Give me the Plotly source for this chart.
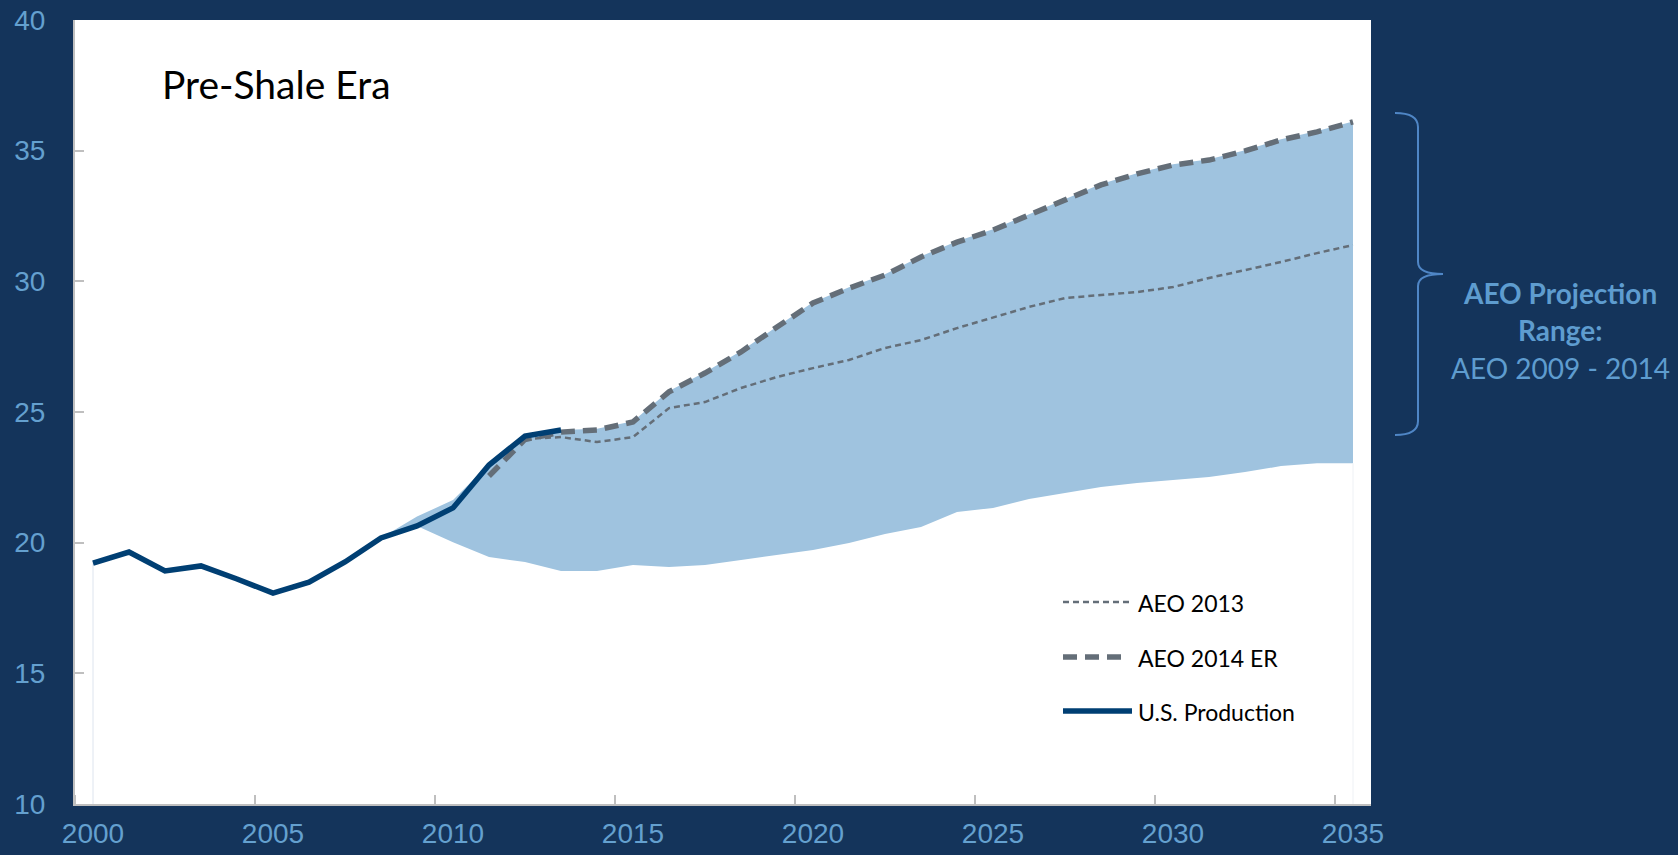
import plotly.graph_objects as go

# U.S. production, history
hist_years = list(range(2000, 2014))
us_production = [19.22, 19.64, 18.92, 19.11, 18.61, 18.07, 18.49, 19.26, 20.18,
                 20.64, 21.33, 22.97, 24.08, 24.31]

# AEO 2013 reference case
aeo2013_years = list(range(2012, 2036))
aeo2013 = [23.97, 24.04, 23.85, 24.04, 25.15, 25.38, 25.92, 26.34, 26.68, 26.99,
           27.45, 27.75, 28.21, 28.63, 29.02, 29.36, 29.48, 29.59, 29.78, 30.13,
           30.43, 30.74, 31.08, 31.39]

# AEO 2014 Early Release
aeo2014_years = list(range(2011, 2036))
aeo2014er = [22.55, 23.95, 24.23, 24.31, 24.62, 25.77, 26.49, 27.30, 28.25, 29.17,
             29.74, 30.24, 30.93, 31.50, 31.96, 32.54, 33.11, 33.69, 34.11, 34.45,
             34.64, 34.99, 35.41, 35.72, 36.10]

# Envelope of AEO 2009 - 2014 projections
range_years = list(range(2008, 2036))
range_high = [20.18, 21.00, 21.63, 23.00, 24.10, 24.31, 24.36, 24.65, 25.80, 26.52,
              27.33, 28.28, 29.20, 29.77, 30.27, 30.96, 31.53, 31.99, 32.57, 33.14,
              33.72, 34.14, 34.48, 34.67, 35.02, 35.44, 35.75, 36.12]
range_low = [20.18, 20.64, 20.02, 19.45, 19.26, 18.92, 18.92, 19.15, 19.07, 19.15,
             19.34, 19.53, 19.72, 19.99, 20.33, 20.60, 21.17, 21.33, 21.67, 21.90,
             22.13, 22.28, 22.40, 22.51, 22.70, 22.93, 23.04, 23.04]

year_ticks = list(range(2000, 2036, 5))
y_ticks = [10, 15, 20, 25, 30, 35, 40]

BG = "#14345b"
LABEL = "#64a0cf"
AXIS = "#bfbfbf"
BAND = "#9fc3df"
GREY = "#646e78"
NAVY = "#003f73"
TXT_FONT = "Lato"

W, H = 1678, 855
ML, MR, MT, MB = 75, 307, 20, 51
PW, PH = W - ML - MR, H - MT - MB


def px_x(px):
    return (px - ML) / PW


def px_y(py):
    return (H - MB - py) / PH


fig = go.Figure()

# projection envelope
fig.add_trace(go.Scatter(x=range_years, y=range_low, mode="lines",
                         line=dict(width=0, color=BAND), hoverinfo="skip",
                         showlegend=False))
fig.add_trace(go.Scatter(x=range_years, y=range_high, mode="lines", fill="tonexty",
                         fillcolor=BAND, line=dict(width=0, color=BAND),
                         hoverinfo="skip", showlegend=False))

# faint edges of the area at both ends of the horizon
fig.add_trace(go.Scatter(x=[hist_years[0], hist_years[0]], y=[y_ticks[0], us_production[0]],
                         mode="lines", line=dict(color="#dde4ee", width=1),
                         hoverinfo="skip", showlegend=False))
fig.add_trace(go.Scatter(x=[range_years[-1], range_years[-1]], y=[y_ticks[0], range_low[-1]],
                         mode="lines", line=dict(color="#eef1f5", width=1),
                         hoverinfo="skip", showlegend=False))

fig.add_trace(go.Scatter(x=aeo2013_years, y=aeo2013, mode="lines", name="AEO 2013",
                         line=dict(color=GREY, width=2.5, dash="6px,4px"),
                         showlegend=False))
fig.add_trace(go.Scatter(x=aeo2014_years, y=aeo2014er, mode="lines", name="AEO 2014 ER",
                         line=dict(color=GREY, width=5.5, dash="14px,8px"),
                         showlegend=False))
fig.add_trace(go.Scatter(x=hist_years, y=us_production, mode="lines", name="U.S. Production",
                         line=dict(color=NAVY, width=5.5), showlegend=False))

shapes = []
annotations = []

# legend drawn beside the lines
legend_rows = [
    ("AEO 2013", dict(color=GREY, width=2.5, dash="6px,4px"), 602, 1130),
    ("AEO 2014 ER", dict(color=GREY, width=5.5, dash="14px,8px"), 657, 1126),
    ("U.S. Production", dict(color=NAVY, width=5.5), 711, 1132),
]
for label, ln, py, x_end in legend_rows:
    shapes.append(dict(type="line", xref="paper", yref="paper",
                       x0=px_x(1063), x1=px_x(x_end), y0=px_y(py), y1=px_y(py),
                       line=ln))
    annotations.append(dict(text=label, xref="paper", yref="paper",
                            x=px_x(1136), y=px_y(py + 1), xanchor="left", yanchor="middle",
                            showarrow=False, font=dict(family=TXT_FONT, size=23, color="#000000")))

annotations.append(dict(text="Pre-Shale Era", xref="paper", yref="paper",
                        x=px_x(160), y=px_y(84), xanchor="left", yanchor="middle",
                        showarrow=False, font=dict(family=TXT_FONT, size=39, color="#000000")))

# brace marking the projection range
bx0, bx1, bx2 = 1395, 1418, 1443
by0, bym, by1 = 113, 274, 435
pts = {
    "a": (bx0, by0), "b": (bx1, by0), "c": (bx1, by0 + 14), "d": (bx1, bym - 12),
    "e": (bx1, bym), "f": (bx2, bym), "g": (bx1, bym + 12), "h": (bx1, by1 - 14),
    "i": (bx1, by1), "j": (bx0, by1),
}
P = {k: f"{px_x(v[0]):.5f},{px_y(v[1]):.5f}" for k, v in pts.items()}
brace = (f"M {P['a']} Q {P['b']} {P['c']} L {P['d']} Q {P['e']} {P['f']} "
         f"Q {P['e']} {P['g']} L {P['h']} Q {P['i']} {P['j']}")
shapes.append(dict(type="path", xref="paper", yref="paper", path=brace,
                   line=dict(color="#4f86c6", width=2)))

side_text = [("<b>AEO Projection</b>", 293), ("<b>Range:</b>", 330), ("AEO 2009 - 2014", 368)]
for t, py in side_text:
    annotations.append(dict(text=t, xref="paper", yref="paper", x=px_x(1560), y=px_y(py),
                            xanchor="center", yanchor="middle", showarrow=False,
                            font=dict(family=TXT_FONT, size=28, color="#5e9ccf")))

fig.update_layout(
    width=W, height=H,
    margin=dict(l=ML, r=MR, t=MT, b=MB, pad=0),
    paper_bgcolor=BG, plot_bgcolor="#ffffff",
    shapes=shapes, annotations=annotations,
    showlegend=False,
    xaxis=dict(range=[1999.5, 2035.5], tickmode="array", tickvals=year_ticks,
               ticktext=[str(v) for v in year_ticks], ticks="", automargin=False,
               showgrid=False, zeroline=False, showline=True, linecolor=AXIS, linewidth=2,
               tickfont=dict(family="Liberation Sans", size=28, color=LABEL),
               ticklabelstandoff=3,
               minor=dict(tick0=2004.5, dtick=5, ticks="inside", ticklen=9,
                          tickcolor=AXIS, tickwidth=1.5, showgrid=False)),
    yaxis=dict(range=[10, 40], tickmode="array", tickvals=y_ticks, ticks="inside",
               ticklen=9, tickcolor=AXIS, tickwidth=1.5, automargin=False,
               showgrid=False, zeroline=False, showline=True, linecolor=AXIS, linewidth=2,
               tickfont=dict(family="Liberation Sans", size=28, color=LABEL),
               ticklabelstandoff=22),
)

fig.write_html("out.html")
